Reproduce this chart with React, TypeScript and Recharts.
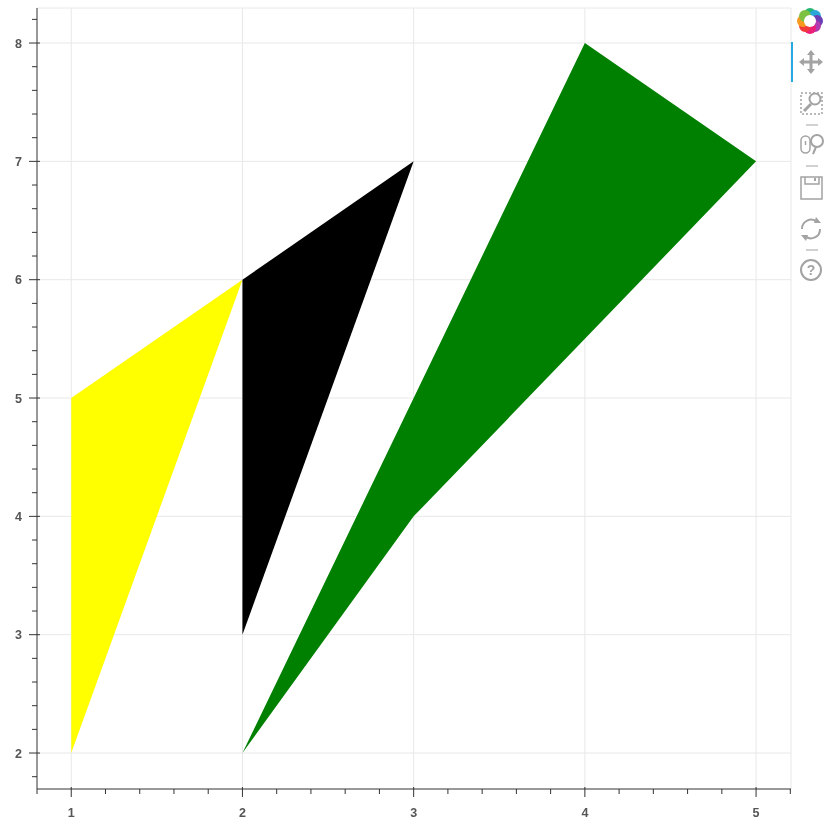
import { CartesianGrid, Scatter, ScatterChart, XAxis, YAxis } from 'recharts';

const yellowX = [1, 1, 2];
const yellowY = [2, 5, 6];
const blackX = [2, 2, 3];
const blackY = [3, 6, 7];
const greenX = [2, 3, 5, 4];
const greenY = [2, 4, 7, 8];

const xDomain = [0.8, 5.204];
const yDomain = [1.696, 8.296];
const xTicks = [0.8, 1, 1.2, 1.4, 1.6, 1.8, 2, 2.2, 2.4, 2.6, 2.8, 3, 3.2, 3.4, 3.6, 3.8, 4, 4.2, 4.4, 4.6, 4.8, 5, 5.2];
const yTicks = [1.8, 2, 2.2, 2.4, 2.6, 2.8, 3, 3.2, 3.4, 3.6, 3.8, 4, 4.2, 4.4, 4.6, 4.8, 5, 5.2, 5.4, 5.6, 5.8, 6, 6.2, 6.4, 6.6, 6.8, 7, 7.2, 7.4, 7.6, 7.8, 8, 8.2];
const xGrid = [1, 2, 3, 4, 5, 5.204];
const yGrid = [2, 3, 4, 5, 6, 7, 8, 8.296];

const axisColor = '#333';
const labelColor = '#555';
const iconColor = '#a3a3a3';
const logoColors = ['#22b573', '#2aa7d9', '#6a3fb5', '#b03ab0', '#ec1f78', '#f23a3a', '#f79a1e', '#7cc142'];

const zip = (xs: number[], ys: number[]) => xs.map((x, i) => ({ x, y: ys[i] }));
const isMajor = (v: number) => Number.isInteger(v);

function XTick({ x, y, payload }: any) {
  const major = isMajor(payload.value);
  return (
    <g>
      <line x1={x} x2={x} y1={major ? y - 2 : y} y2={y + (major ? 8 : 5)} stroke={axisColor} />
      {major && (
        <text x={x} y={y + 28} textAnchor="middle" fontSize={12.5} fontWeight={600} fill={labelColor} fontFamily="Liberation Sans">
          {payload.value}
        </text>
      )}
    </g>
  );
}

function YTick({ x, y, payload }: any) {
  const major = isMajor(payload.value);
  return (
    <g>
      <line x1={x - (major ? 8 : 5)} x2={x + (major ? 3 : 0)} y1={y} y2={y} stroke={axisColor} />
      {major && (
        <text x={x - 15} y={y + 4.5} textAnchor="end" fontSize={12.5} fontWeight={600} fill={labelColor} fontFamily="Liberation Sans">
          {payload.value}
        </text>
      )}
    </g>
  );
}

function patch(fill: string) {
  return (props: any) => (
    <polygon points={props.points.map((p: any) => `${p.x},${p.y}`).join(' ')} fill={fill} stroke="none" />
  );
}

const noPoint = () => <g />;

function Toolbar() {
  return (
    <svg width={36} height={300} style={{ position: 'absolute', left: 791, top: 0 }} fill="none" stroke={iconColor} strokeWidth={1.5}>
      {logoColors.map((c, i) => (
        <circle key={c} cx={19} cy={14} r={6} fill={c} stroke="none" transform={`rotate(${i * 45} 19 21)`} />
      ))}
      <circle cx={19} cy={21} r={6} fill="#fff" stroke="none" />

      <rect x={0} y={42} width={2} height={40} fill="#26aae1" stroke="none" />

      <path d="M20 52v20M10 62h20" strokeWidth={3} />
      <path d="M20 50l-4 5h8zM20 74l-4-5h8zM8 62l5-4v8zM32 62l-5-4v8z" fill={iconColor} stroke="none" />

      <rect x={10} y={93} width={21} height={21} strokeDasharray="2 2" />
      <circle cx={24} cy={99} r={5.5} strokeWidth={2} />
      <path d="M20 104l-7 7" strokeWidth={3} />

      <path d="M15 125h12" strokeWidth={1} />
      <rect x={10} y={136} width={9} height={17} rx={4.5} />
      <path d="M14.5 141v4" />
      <circle cx={26} cy={141} r={6} strokeWidth={2} />
      <path d="M25 147l-3 7" strokeWidth={2} />

      <path d="M15 166h12" strokeWidth={1} />
      <path d="M10 177h21v22h-21zM14 177v7h14v-7" />
      <rect x={23} y={178} width={2} height={3} fill={iconColor} stroke="none" />

      <path d="M11 229a9 9 0 0 1 15-7M29 229a9 9 0 0 1-15 7" strokeWidth={2} />
      <path d="M25 217l5 6h-7zM15 241l-5-6h7z" fill={iconColor} stroke="none" />

      <path d="M15 250h12" strokeWidth={1} />
      <circle cx={20} cy={270} r={10} strokeWidth={2} />
      <text x={20} y={275} textAnchor="middle" fontSize={14} fontWeight={700} fill={iconColor} stroke="none" fontFamily="Liberation Sans">?</text>
    </svg>
  );
}

export default function App() {
  return (
    <div style={{ position: 'absolute', left: 0, top: 0, width: 827, height: 825, filter: 'blur(0.6px)' }}>
      <ScatterChart width={827} height={825} margin={{ top: 8, right: 36, bottom: 0, left: 0 }}>
        <CartesianGrid stroke="#e8e8e8" horizontalValues={yGrid} verticalValues={xGrid} />
        <XAxis
          type="number"
          dataKey="x"
          domain={xDomain}
          ticks={xTicks}
          interval={0}
          height={36}
          allowDataOverflow
          tickLine={false}
          tickSize={0}
          tickMargin={0}
          tick={<XTick />}
          axisLine={{ stroke: axisColor }}
        />
        <YAxis
          type="number"
          dataKey="y"
          domain={yDomain}
          ticks={yTicks}
          interval={0}
          width={37}
          allowDataOverflow
          tickLine={false}
          tickSize={0}
          tickMargin={0}
          tick={<YTick />}
          axisLine={{ stroke: axisColor }}
        />
        <Scatter data={zip(yellowX, yellowY)} fill="#ffff00" line={patch('#ffff00')} shape={noPoint} isAnimationActive={false} />
        <Scatter data={zip(blackX, blackY)} fill="#000000" line={patch('#000000')} shape={noPoint} isAnimationActive={false} />
        <Scatter data={zip(greenX, greenY)} fill="#008000" line={patch('#008000')} shape={noPoint} isAnimationActive={false} />
      </ScatterChart>
      <Toolbar />
    </div>
  );
}
